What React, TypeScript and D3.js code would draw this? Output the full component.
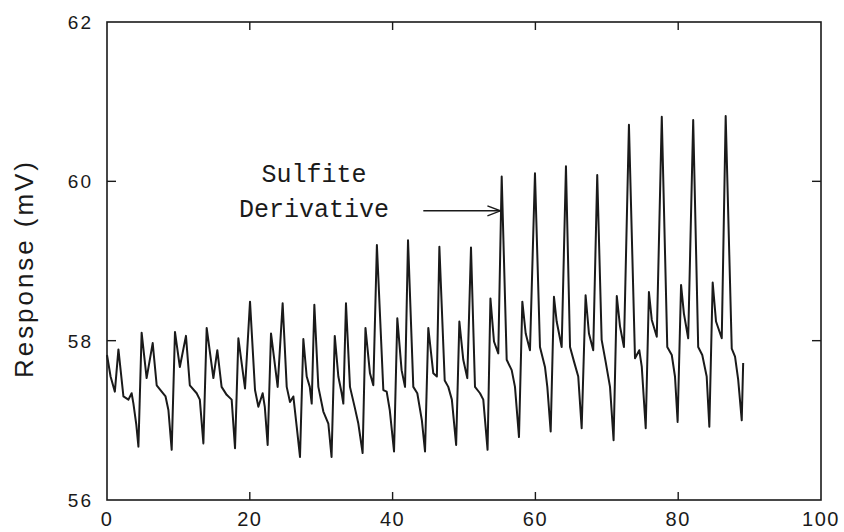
import React from "react";
import * as d3 from "d3";

const WIDTH = 844;
const HEIGHT = 532;
const LEFT = 107;
const RIGHT = 821;
const TOP = 22;
const BOTTOM = 500;

// trace vertices (time, response mV)
const TRACE_X = [
  0.0, 0.5, 1.1, 1.6, 2.3, 3.0, 3.45, 3.7, 4.1, 4.4,
  4.85, 5.55, 6.4, 6.96, 7.66, 8.2, 8.6, 9.06,
  9.52, 10.2, 11.06, 11.6, 12.56, 13.0, 13.5,
  13.96, 14.9, 15.45, 16.05, 16.76, 17.46, 17.93,
  18.4, 19.33, 20.03, 20.73, 21.2, 21.8, 22.1, 22.5,
  22.97, 23.9, 24.6, 25.17, 25.63, 26.1, 26.57, 27.03,
  27.5, 27.97, 28.4, 28.67, 29.04, 29.6, 30.3, 31.0, 31.45,
  31.9, 32.4, 32.87, 33.1, 33.47, 34.03, 34.73, 35.2, 35.8,
  36.2, 36.83, 37.3, 37.8, 38.7, 39.17, 39.6, 40.2,
  40.66, 41.26, 41.74, 42.16, 42.9, 43.46, 44.1, 44.54,
  45.0, 45.7, 46.2, 46.55, 47.3, 47.8, 48.3, 48.9,
  49.35, 49.9, 50.46, 50.98, 51.54, 52.24, 52.7, 53.3,
  53.7, 54.2, 54.8, 55.28, 55.98, 56.68, 57.14, 57.7,
  58.17, 58.64, 59.24, 59.94, 60.64, 61.34, 61.67, 62.14,
  62.6, 62.98, 63.68, 64.28, 64.85, 65.4, 66.0, 66.48,
  67.03, 67.5, 68.1, 68.66, 69.28, 69.83, 70.45, 70.95,
  71.4, 71.85, 72.4, 73.1, 73.95, 74.55, 74.9, 75.45,
  75.9, 76.3, 77.0, 77.7, 78.47, 79.1, 79.55, 79.92,
  80.4, 80.8, 81.4, 82.1, 82.8, 83.37, 83.99, 84.36,
  84.83, 85.3, 86.1, 86.65, 87.5, 87.96, 88.4, 88.9, 89.1,
];

const TRACE_Y = [
  57.82, 57.55, 57.36, 57.89, 57.3, 57.26, 57.34, 57.21, 56.95, 56.67,
  58.1, 57.53, 57.97, 57.44, 57.36, 57.3, 57.13, 56.63,
  58.11, 57.67, 58.06, 57.44, 57.34, 57.26, 56.71,
  58.16, 57.53, 57.88, 57.42, 57.32, 57.26, 56.65,
  58.03, 57.4, 58.49, 57.38, 57.17, 57.34, 57.17, 56.69,
  58.09, 57.42, 58.47, 57.42, 57.23, 57.3, 56.92, 56.54,
  58.02, 57.55, 57.42, 57.21, 58.45, 57.42, 57.11, 56.96, 56.54,
  58.06, 57.55, 57.34, 57.21, 58.47, 57.42, 57.15, 56.96, 56.59,
  58.16, 57.59, 57.44, 59.2, 57.38, 57.36, 57.13, 56.61,
  58.28, 57.63, 57.42, 59.26, 57.42, 57.34, 57.0, 56.61,
  58.16, 57.59, 57.55, 59.18, 57.5, 57.42, 57.26, 56.69,
  58.24, 57.76, 57.53, 59.17, 57.42, 57.34, 57.26, 56.63,
  58.53, 57.99, 57.84, 60.06, 57.76, 57.63, 57.42, 56.79,
  58.49, 58.09, 57.88, 60.1, 57.92, 57.67, 57.42, 56.86,
  58.55, 58.24, 57.92, 60.19, 57.92, 57.74, 57.55, 56.9,
  58.57, 58.09, 57.88, 60.08, 58.01, 57.74, 57.42, 56.75,
  58.56, 58.18, 57.92, 60.71, 57.78, 57.88, 57.67, 56.9,
  58.61, 58.26, 58.05, 60.81, 57.92, 57.82, 57.55, 56.98,
  58.7, 58.34, 58.03, 60.77, 57.92, 57.82, 57.55, 56.92,
  58.73, 58.24, 58.03, 60.82, 57.9, 57.8, 57.51, 57.0, 57.72,
];

const X_TICKS = [0, 20, 40, 60, 80, 100];
const Y_TICKS = [56, 58, 60, 62];
const ANNOTATION_LINES = ["Sulfite", "Derivative"];

const INK = "#1a1a1a";

export default function App() {
  const x = d3.scaleLinear().domain([0, 100]).range([LEFT, RIGHT]);
  const y = d3.scaleLinear().domain([56, 62]).range([BOTTOM, TOP]);

  const points: [number, number][] = TRACE_X.map((t, i) => [t, TRACE_Y[i]]);
  const line = d3
    .line<[number, number]>()
    .x((d) => x(d[0]))
    .y((d) => y(d[1]));

  // arrow points at the first sulfite peak
  const arrowY = y(59.63);
  const arrowX0 = x(44.3);
  const arrowX1 = x(55.1);

  return (
    <svg
      width={WIDTH}
      height={HEIGHT}
      style={{ position: "absolute", left: 0, top: 0, background: "#fff" }}
    >
      <rect
        x={LEFT}
        y={TOP}
        width={RIGHT - LEFT}
        height={BOTTOM - TOP}
        fill="none"
        stroke={INK}
        strokeWidth={1.6}
      />

      {X_TICKS.slice(1, -1).map((t) => (
        <g key={"xt" + t} stroke={INK} strokeWidth={1.4}>
          <line x1={x(t)} x2={x(t)} y1={BOTTOM} y2={BOTTOM - 8} />
          <line x1={x(t)} x2={x(t)} y1={TOP} y2={TOP + 8} />
        </g>
      ))}
      {Y_TICKS.slice(1, -1).map((t) => (
        <g key={"yt" + t} stroke={INK} strokeWidth={1.4}>
          <line x1={LEFT} x2={LEFT + 9} y1={y(t)} y2={y(t)} />
          <line x1={RIGHT} x2={RIGHT - 9} y1={y(t)} y2={y(t)} />
        </g>
      ))}

      <g fontFamily="'Liberation Sans', Arial, sans-serif" fill={INK}>
        {X_TICKS.map((t) => (
          <text
            key={"xl" + t}
            x={x(t)}
            y={526}
            textAnchor="middle"
            fontSize={20}
            letterSpacing={1.5}
          >
            {t}
          </text>
        ))}
        {Y_TICKS.map((t) => (
          <text
            key={"yl" + t}
            x={93}
            y={y(t)}
            dy="0.36em"
            textAnchor="end"
            fontSize={19}
            letterSpacing={2}
          >
            {t}
          </text>
        ))}
        <text
          transform={`translate(33, 270) rotate(-90)`}
          textAnchor="middle"
          fontSize={26}
          textLength={216}
          lengthAdjust="spacing"
        >
          Response (mV)
        </text>
      </g>

      <path
        d={line(points) || ""}
        fill="none"
        stroke={INK}
        strokeWidth={2}
        strokeLinejoin="round"
      />

      <g fontFamily="'Liberation Mono', 'Courier New', monospace" fill={INK} fontSize={25}>
        {ANNOTATION_LINES.map((s, i) => (
          <text key={s} x={314} y={182 + i * 35} textAnchor="middle">
            {s}
          </text>
        ))}
      </g>
      <g stroke={INK} strokeWidth={1.4} fill="none">
        <line x1={arrowX0} x2={arrowX1} y1={arrowY} y2={arrowY} />
        <path
          d={`M${arrowX1 - 13},${arrowY - 5} L${arrowX1},${arrowY} L${arrowX1 - 13},${arrowY + 5}`}
        />
      </g>
    </svg>
  );
}
